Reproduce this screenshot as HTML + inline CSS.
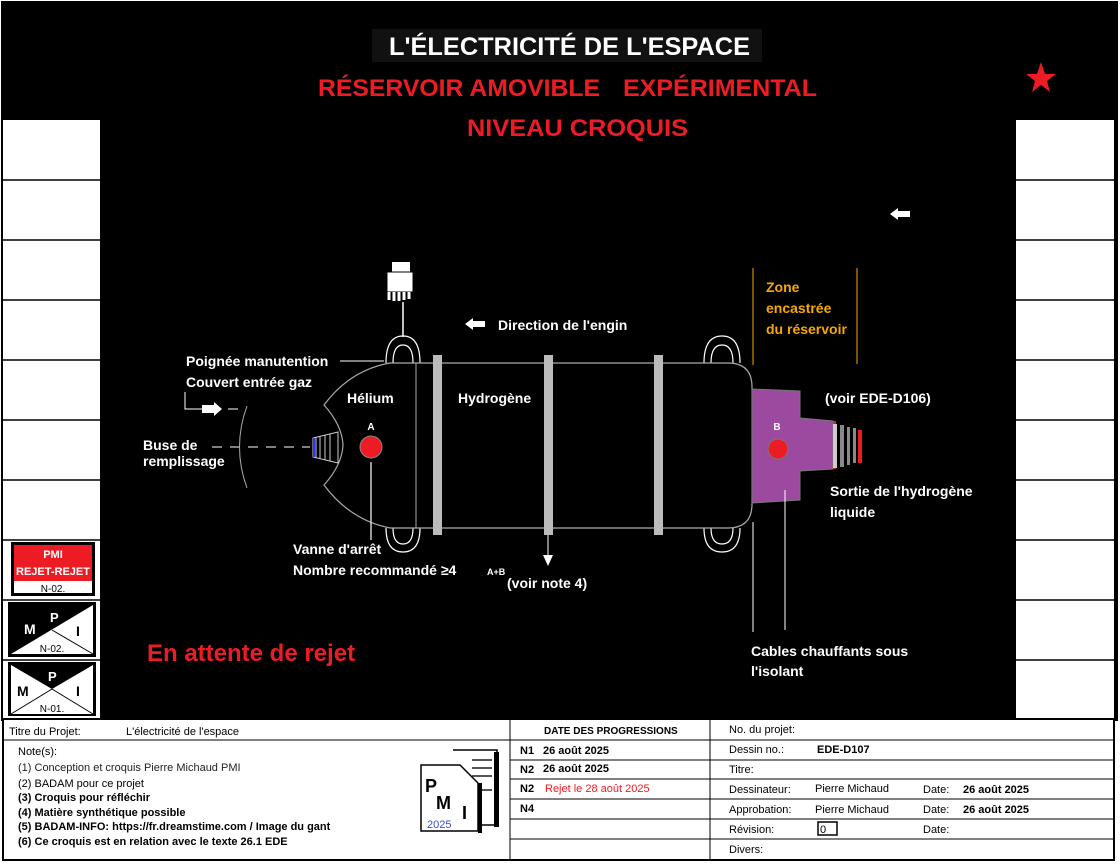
<!DOCTYPE html>
<html><head><meta charset="utf-8"><style>
body{margin:0;width:1120px;height:866px;background:#fff;overflow:hidden;font-family:"Liberation Sans",sans-serif}
svg{position:absolute;left:0;top:0}
</style></head><body>
<svg width="1120" height="866" viewBox="0 0 1120 866" font-family="Liberation Sans, sans-serif" font-weight="bold">
<rect x="0" y="0" width="1120" height="866" fill="#fff"/>
<rect x="1" y="1" width="1117" height="720" fill="#000"/>
<rect x="3" y="120" width="97" height="598" fill="#fff"/>
<g stroke="#000" stroke-width="1.5">
<line x1="3" y1="180" x2="100" y2="180"/><line x1="3" y1="240" x2="100" y2="240"/><line x1="3" y1="300" x2="100" y2="300"/><line x1="3" y1="360" x2="100" y2="360"/><line x1="3" y1="420" x2="100" y2="420"/><line x1="3" y1="480" x2="100" y2="480"/><line x1="3" y1="540" x2="100" y2="540"/><line x1="3" y1="600" x2="100" y2="600"/><line x1="3" y1="660" x2="100" y2="660"/>
</g>
<rect x="1016" y="120" width="98" height="598" fill="#fff"/>
<g stroke="#000" stroke-width="1.5">
<line x1="1016" y1="180" x2="1114" y2="180"/><line x1="1016" y1="240" x2="1114" y2="240"/><line x1="1016" y1="300" x2="1114" y2="300"/><line x1="1016" y1="360" x2="1114" y2="360"/><line x1="1016" y1="420" x2="1114" y2="420"/><line x1="1016" y1="480" x2="1114" y2="480"/><line x1="1016" y1="540" x2="1114" y2="540"/><line x1="1016" y1="600" x2="1114" y2="600"/><line x1="1016" y1="660" x2="1114" y2="660"/>
</g>
<rect x="11" y="542" width="84" height="54" fill="#000"/>
<rect x="14" y="545" width="78" height="36" fill="#ed1c24"/>
<rect x="14" y="581" width="78" height="12" fill="#fff"/>
<text x="53" y="558" fill="#fff" font-size="11" text-anchor="middle">PMI</text>
<text x="53" y="575" fill="#fff" font-size="11" text-anchor="middle">REJET-REJET</text>
<text x="53" y="592" fill="#000" font-size="10" text-anchor="middle" font-weight="normal">N-02.</text>
<rect x="8" y="602" width="88" height="55" fill="#000"/>
<polygon points="11,654 93,605 93,654" fill="#fff"/>
<line x1="52" y1="630" x2="93" y2="654" stroke="#000"/>
<text x="24" y="634" fill="#fff" font-size="14">M</text><text x="50" y="622" fill="#fff" font-size="13">P</text><text x="76" y="636" fill="#000" font-size="14">I</text>
<text x="52" y="652" fill="#000" font-size="10" text-anchor="middle" font-weight="normal">N-02.</text>
<rect x="8" y="662" width="88" height="54" fill="#000"/>
<rect x="11" y="665" width="82" height="49" fill="#fff"/>
<polygon points="11,665 93,665 52,689" fill="#000"/>
<line x1="11" y1="714" x2="52" y2="689" stroke="#000"/><line x1="93" y1="714" x2="52" y2="689" stroke="#000"/>
<text x="17" y="696" fill="#000" font-size="14">M</text><text x="48" y="681" fill="#fff" font-size="13">P</text><text x="76" y="696" fill="#000" font-size="14">I</text>
<text x="52" y="712" fill="#000" font-size="10" text-anchor="middle" font-weight="normal">N-01.</text>
<rect x="372" y="29" width="390" height="33" fill="#111"/>
<text x="389" y="55" fill="#fff" font-size="25" textLength="361" lengthAdjust="spacingAndGlyphs">L'ÉLECTRICITÉ DE L'ESPACE</text>
<text x="318" y="96" fill="#ed1c24" font-size="24" textLength="282" lengthAdjust="spacingAndGlyphs">RÉSERVOIR AMOVIBLE</text>
<text x="623" y="96" fill="#ed1c24" font-size="24" textLength="194" lengthAdjust="spacingAndGlyphs">EXPÉRIMENTAL</text>
<text x="467" y="136" fill="#ed1c24" font-size="24" textLength="221" lengthAdjust="spacingAndGlyphs">NIVEAU CROQUIS</text>
<polygon points="1041,62 1045,74 1056,74 1047,81 1050,92 1041,85 1032,92 1035,81 1026,74 1037,74" fill="#ed1c24"/>
<polygon points="890,214 898,208 898,211 910,211 910,217 898,217 898,220" fill="#fff"/>
<rect x="392" y="262" width="18" height="10" fill="#fff"/>
<rect x="387" y="272" width="26" height="20" fill="#fff" stroke="#000"/>
<path d="M389,292 l0,8 M394,292 l0,9 M399,292 l0,9 M404,292 l0,8 M409,292 l0,7" stroke="#fff" stroke-width="3"/>
<line x1="403" y1="302" x2="403" y2="337" stroke="#fff" stroke-width="1.5"/>
<polygon points="465,324 473,318 473,321 485,321 485,327 473,327 473,330" fill="#fff"/>
<text x="498" y="330" fill="#fff" font-size="14">Direction  de l'engin</text>
<g fill="none" stroke="#fff" stroke-width="1.2">
<path d="M386,363 Q386,336 403,336 Q420,336 420,363"/><path d="M393,363 Q393,345 403,345 Q413,345 413,363"/>
<path d="M386,528 Q386,552 403,552 Q420,552 420,528"/><path d="M393,528 Q393,544 403,544 Q413,544 413,528"/>
<path d="M704,363 Q704,336 722,336 Q740,336 740,363"/><path d="M711,363 Q711,345 722,345 Q733,345 733,363"/>
<path d="M704,528 Q704,552 722,552 Q740,552 740,528"/><path d="M711,528 Q711,544 722,544 Q733,544 733,528"/>
</g>
<path d="M390,363 L728,363 Q752,363 752,387 L752,504 Q752,528 728,528 L390,528 Q350,520 324,485 Q342,465 343,445 Q342,425 324,405 Q350,370 390,363 Z" fill="#000" stroke="#aaa" stroke-width="1.2"/>
<line x1="416" y1="363" x2="416" y2="528" stroke="#aaa"/>
<rect x="433" y="355" width="9" height="180" fill="#bbb"/>
<rect x="544" y="355" width="9" height="180" fill="#bbb"/>
<rect x="654" y="355" width="9" height="180" fill="#bbb"/>
<text x="347" y="403" fill="#fff" font-size="14">Hélium</text>
<text x="458" y="403" fill="#fff" font-size="14">Hydrogène</text>
<text x="371" y="430" fill="#fff" font-size="10" text-anchor="middle">A</text>
<circle cx="371" cy="447" r="11" fill="#ed1c24" stroke="#888"/>
<line x1="371" y1="462" x2="371" y2="540" stroke="#fff" stroke-width="1.2"/>
<path d="M313,438 L338,432 L338,463 L313,457 Z" fill="#000" stroke="#ccc"/>
<path d="M316,437 v21 M320,436 v23 M325,435 v25 M330,434 v27" stroke="#ccc"/>
<line x1="314" y1="438" x2="314" y2="457" stroke="#33f" stroke-width="2"/>
<line x1="212" y1="447" x2="310" y2="447" stroke="#fff" stroke-dasharray="10,8"/>
<path d="M247,406 Q232,447 247,488" fill="none" stroke="#aaa"/>
<path d="M185,392 L185,409 L202,409" fill="none" stroke="#fff"/>
<polygon points="202,405 214,405 214,402 222,409 214,416 214,413 202,413" fill="#fff"/>
<line x1="228" y1="409" x2="238" y2="409" stroke="#fff"/>
<line x1="340" y1="361" x2="384" y2="361" stroke="#fff"/>
<text x="186" y="366" fill="#fff" font-size="14">Poignée manutention</text>
<text x="186" y="387" fill="#fff" font-size="14">Couvert entrée gaz</text>
<text x="143" y="450" fill="#fff" font-size="14">Buse de</text>
<text x="143" y="466" fill="#fff" font-size="14">remplissage</text>
<text x="293" y="554" fill="#fff" font-size="14">Vanne d'arrêt</text>
<text x="293" y="575" fill="#fff" font-size="14">Nombre recommandé ≥4</text>
<text x="487" y="575" fill="#fff" font-size="9">A+B</text>
<line x1="548" y1="535" x2="548" y2="555" stroke="#fff"/>
<polygon points="543,555 553,555 548,566" fill="#fff"/>
<text x="507" y="588" fill="#fff" font-size="14">(voir note 4)</text>
<text x="147" y="661" fill="#ed1c24" font-size="24">En attente de rejet</text>
<polygon points="752,389 800,391 800,418 833,421 833,469 800,471 800,500 752,503" fill="#9b4aa0" stroke="#777"/>
<rect x="833" y="421" width="3" height="3" fill="#ed1c24"/><rect x="833" y="466" width="3" height="3" fill="#ed1c24"/>
<path d="M833,424 L860,430 L860,463 L833,468 Z" fill="#000"/>
<rect x="833" y="424" width="4" height="44" fill="#ccc"/>
<rect x="840" y="425" width="4" height="42" fill="#888"/>
<rect x="847" y="427" width="3" height="38" fill="#888"/>
<rect x="853" y="428" width="3" height="35" fill="#888"/>
<rect x="858" y="430" width="4" height="33" fill="#ed1c24"/>
<text x="777" y="430" fill="#fff" font-size="10" text-anchor="middle">B</text>
<circle cx="778" cy="449" r="10" fill="#ed1c24" stroke="#777"/>
<line x1="785" y1="490" x2="785" y2="630" stroke="#fff"/>
<line x1="753" y1="268" x2="753" y2="365" stroke="#f7a800"/>
<line x1="857" y1="268" x2="857" y2="364" stroke="#f7a800"/>
<line x1="753" y1="522" x2="753" y2="632" stroke="#fff"/>
<text x="766" y="292" fill="#f7a800" font-size="14">Zone</text>
<text x="766" y="313" fill="#f7a800" font-size="14">encastrée</text>
<text x="766" y="334" fill="#f7a800" font-size="14">du réservoir</text>
<text x="825" y="403" fill="#fff" font-size="14">(voir EDE-D106)</text>
<text x="830" y="496" fill="#fff" font-size="14">Sortie de l'hydrogène</text>
<text x="830" y="517" fill="#fff" font-size="14">liquide</text>
<text x="751" y="656" fill="#fff" font-size="14">Cables chauffants sous</text>
<text x="751" y="676" fill="#fff" font-size="14">l'isolant</text>
<rect x="3" y="719" width="1111" height="141" fill="#fff" stroke="#000" stroke-width="2"/>
<g stroke="#000" stroke-width="1">
<line x1="510" y1="719" x2="510" y2="860"/><line x1="710" y1="719" x2="710" y2="860"/>
<line x1="3" y1="740" x2="510" y2="740"/>
<line x1="510" y1="740" x2="1114" y2="740"/><line x1="510" y1="760" x2="1114" y2="760"/><line x1="510" y1="779" x2="1114" y2="779"/><line x1="510" y1="799" x2="1114" y2="799"/><line x1="510" y1="819" x2="1114" y2="819"/><line x1="510" y1="839" x2="1114" y2="839"/>
</g>
<g font-size="11" fill="#000" font-weight="normal">
<text x="9" y="735">Titre du Projet:</text><text x="126" y="735">L'électricité de l'espace</text>
<text x="18" y="755">Note(s):</text>
<text x="18" y="771" fill="#222">(1) Conception et croquis Pierre Michaud PMI</text>
<text x="18" y="787">(2) BADAM pour ce projet</text>
</g>
<g font-size="11" fill="#000">
<text x="18" y="801">(3) Croquis pour réfléchir</text>
<text x="18" y="816">(4) Matière synthétique possible</text>
<text x="18" y="830">(5) BADAM-INFO: https://fr.dreamstime.com  / Image du gant</text>
<text x="18" y="845">(6) Ce croquis est en relation avec le texte 26.1 EDE</text>
<text x="544" y="734" font-size="10">DATE DES PROGRESSIONS</text>
<text x="520" y="754">N1</text><text x="543" y="754">26 août 2025</text>
<text x="520" y="773">N2</text><text x="543" y="772">26 août 2025</text>
<text x="520" y="792">N2</text><text x="545" y="792" fill="#ed1c24" font-weight="normal">Rejet le 28 août 2025</text>
<text x="520" y="812">N4</text>
<text x="817" y="753">EDE-D107</text>
<text x="963" y="793">26 août 2025</text><text x="963" y="813">26 août 2025</text>
</g>
<g font-size="11" fill="#000" font-weight="normal">
<text x="729" y="733">No. du projet:</text>
<text x="729" y="753">Dessin no.:</text>
<text x="729" y="773">Titre:</text>
<text x="729" y="793">Dessinateur:</text><text x="815" y="792">Pierre Michaud</text><text x="923" y="793">Date:</text>
<text x="729" y="813">Approbation:</text><text x="815" y="813">Pierre Michaud</text><text x="923" y="813">Date:</text>
<text x="729" y="833">Révision:</text><text x="923" y="833">Date:</text>
<text x="729" y="853">Divers:</text>
</g>
<rect x="818" y="822" width="19" height="13" fill="#fff" stroke="#000" stroke-width="1.5"/>
<text x="820" y="833" font-size="11" font-weight="normal">0</text>
<path d="M453,750 L497,750 L497,825 L470,825" fill="#fff" stroke="#000" stroke-width="1.5"/>
<rect x="494" y="752" width="5" height="75" fill="#000"/>
<path d="M472,760 h20 M472,768 h20 M472,776 h20 M475,790 h17" stroke="#555" stroke-width="2"/>
<path d="M421,765 L460,765 L478,783 L478,831 L421,831 Z" fill="#fff" stroke="#000" stroke-width="1.5"/>
<rect x="478" y="783" width="4" height="50" fill="#000"/>
<text x="425" y="792" font-size="18">P</text><text x="436" y="809" font-size="18">M</text><text x="462" y="819" font-size="18">I</text>
<text x="427" y="828" font-size="11" fill="#3a4fc8" font-weight="normal">2025</text>
</svg>
</body></html>
